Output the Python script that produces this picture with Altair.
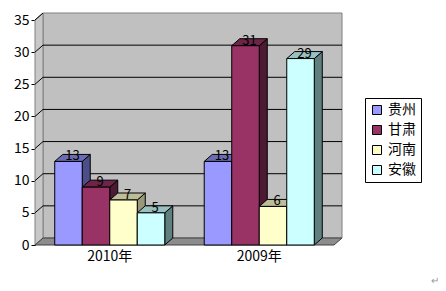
import altair as alt
import pandas as pd

# ---- data ----
categories = ["2010年", "2009年"]
series = ["贵州", "甘肃", "河南", "安徽"]
values_2010 = [13, 9, 7, 5]
values_2009 = [13, 31, 6, 29]
y_ticks = [0, 5, 10, 15, 20, 25, 30, 35]

# ---- style ----
front_colors = ["#9999FF", "#993366", "#FFFFCC", "#CCFFFF"]
top_colors = ["#6B6BB3", "#6E2447", "#BDBD99", "#99BFBF"]
side_colors = ["#4D4D88", "#4D1A33", "#99997A", "#608080"]
FONT = "Noto Sans CJK SC"
YMAX = 35
DX = 2 * 8 / 299       # depth offset in x units
DY = 35 * 7 / 225      # depth offset in y units
BW = 0.184             # bar width in category units
START = 0.132          # group start inside a category

rows = []
for ci, (cat, vals) in enumerate(zip(categories, [values_2010, values_2009])):
    for si, (s, v) in enumerate(zip(series, vals)):
        x0 = ci + START + si * BW
        rows.append(dict(bar=f"{ci}-{si}", cat=cat, series=s, value=v,
                         x0=x0, x1=x0 + BW, xm=x0 + BW / 2 + DX / 2,
                         top=top_colors[si], side=side_colors[si]))
bars = pd.DataFrame(rows)

# faces as two-row areas per bar
side_rows, top_rows = [], []
for r in rows:
    side_rows.append(dict(bar=r["bar"], x=r["x1"], ya=0, yb=r["value"], c=r["side"]))
    side_rows.append(dict(bar=r["bar"], x=r["x1"] + DX, ya=DY, yb=r["value"] + DY, c=r["side"]))
    top_rows.append(dict(bar=r["bar"], y=r["value"], xa=r["x0"], xb=r["x1"], c=r["top"]))
    top_rows.append(dict(bar=r["bar"], y=r["value"] + DY, xa=r["x0"] + DX, xb=r["x1"] + DX, c=r["top"]))
sides = pd.DataFrame(side_rows)
tops = pd.DataFrame(top_rows)

XS = alt.Scale(domain=[0, 2], nice=False, zero=False)
YS = alt.Scale(domain=[0, YMAX], nice=False, zero=False)
YAX = alt.Axis(values=y_ticks, title=None, grid=False, domainColor="black",
               tickColor="black", tickSize=4, labelPadding=2, labelFont=FONT,
               labelFontSize=14, labelColor="black", domainWidth=1)

one = pd.DataFrame({"k": [0]})

back_wall = alt.Chart(one).mark_rect(fill="#C0C0C0", stroke="#808080", strokeWidth=1).encode(
    x=alt.datum(DX, scale=XS, axis=None), x2=alt.datum(2 + DX),
    y=alt.datum(DY, scale=YS, axis=YAX), y2=alt.datum(YMAX + DY))

left_wall = alt.Chart(pd.DataFrame({"x": [0, DX], "ya": [0, DY], "yb": [YMAX, YMAX + DY]})).mark_area(
    orient="vertical", fill="#C8C8C8", stroke="#808080", strokeWidth=1).encode(
    x=alt.X("x:Q", scale=XS, axis=None), y=alt.Y("ya:Q", scale=YS, axis=YAX), y2="yb:Q")

floor = alt.Chart(pd.DataFrame({"y": [0, DY], "xa": [0, DX], "xb": [2, 2 + DX]})).mark_area(
    orient="horizontal", fill="#8C8C8C", stroke="#404040", strokeWidth=1).encode(
    y=alt.Y("y:Q", scale=YS, axis=YAX), x=alt.X("xa:Q", scale=XS, axis=None), x2="xb:Q")

grid_df = pd.DataFrame({"v": [5, 10, 15, 20, 25, 30]})
grid_df["vb"] = grid_df["v"] + DY
back_grid = alt.Chart(grid_df).mark_rule(color="black", strokeWidth=1).encode(
    x=alt.datum(DX, scale=XS, axis=None), x2=alt.datum(2 + DX),
    y=alt.Y("vb:Q", scale=YS, axis=YAX))

diag_df = pd.DataFrame({"v": [5, 10, 15, 20, 25, 30, 35]})
diag_df["vb"] = diag_df["v"] + DY
side_grid = alt.Chart(diag_df).mark_rule(color="black", strokeWidth=1).encode(
    x=alt.datum(0, scale=XS, axis=None), x2=alt.datum(DX),
    y=alt.Y("v:Q", scale=YS, axis=YAX), y2="vb:Q")

side_faces = alt.Chart(sides).mark_area(orient="vertical", stroke="black", strokeWidth=1).encode(
    x=alt.X("x:Q", scale=XS, axis=None), y=alt.Y("ya:Q", scale=YS, axis=YAX), y2="yb:Q",
    fill=alt.Fill("c:N", scale=None), detail="bar:N")

top_faces = alt.Chart(tops).mark_area(orient="horizontal", stroke="black", strokeWidth=1).encode(
    y=alt.Y("y:Q", scale=YS, axis=YAX), x=alt.X("xa:Q", scale=XS, axis=None), x2="xb:Q",
    fill=alt.Fill("c:N", scale=None), detail="bar:N")

front = alt.Chart(bars).mark_rect(stroke="black", strokeWidth=1).encode(
    x=alt.X("x0:Q", scale=XS, axis=None), x2="x1:Q",
    y=alt.Y("value:Q", scale=YS, axis=YAX), y2=alt.datum(0),
    color=alt.Color("series:N", scale=alt.Scale(domain=series, range=front_colors),
                    sort=series,
                    legend=alt.Legend(orient="none", legendX=330, legendY=78, title=None,
                                      strokeColor="black", fillColor="white", padding=5,
                                      symbolType="square", symbolSize=81,
                                      symbolStrokeColor="black", symbolStrokeWidth=1,
                                      labelFont=FONT, labelFontSize=14, labelColor="black",
                                      labelOffset=4, rowPadding=6, cornerRadius=0)))

labels = alt.Chart(bars).mark_text(font=FONT, fontSize=13, color="black", baseline="middle", dy=-5).encode(
    x=alt.X("xm:Q", scale=XS, axis=None), y=alt.Y("value:Q", scale=YS, axis=YAX),
    text="value:Q")

cat_df = pd.DataFrame({"cat": categories, "xc": [0.5, 1.5]})
cat_labels = alt.Chart(cat_df).mark_text(font=FONT, fontSize=14, color="black", baseline="middle", dy=12).encode(
    x=alt.X("xc:Q", scale=XS, axis=None), y=alt.datum(0, scale=YS, axis=YAX), text="cat:N")

para = alt.Chart(one).mark_text(text="↵", fontSize=10, color="#999999").encode(
    x=alt.value(400), y=alt.value(261))

chart = alt.layer(back_wall, left_wall, floor, back_grid, side_grid,
                  side_faces, top_faces, front, labels, cat_labels, para).properties(
    width=299, height=225,
    autosize=alt.AutoSizeParams(type="none"),
    padding={"left": 35, "top": 20, "right": 112, "bottom": 46},
    background="white",
).configure_view(stroke=None)

chart.save("out.html", embed_options={"renderer": "svg", "actions": False})
